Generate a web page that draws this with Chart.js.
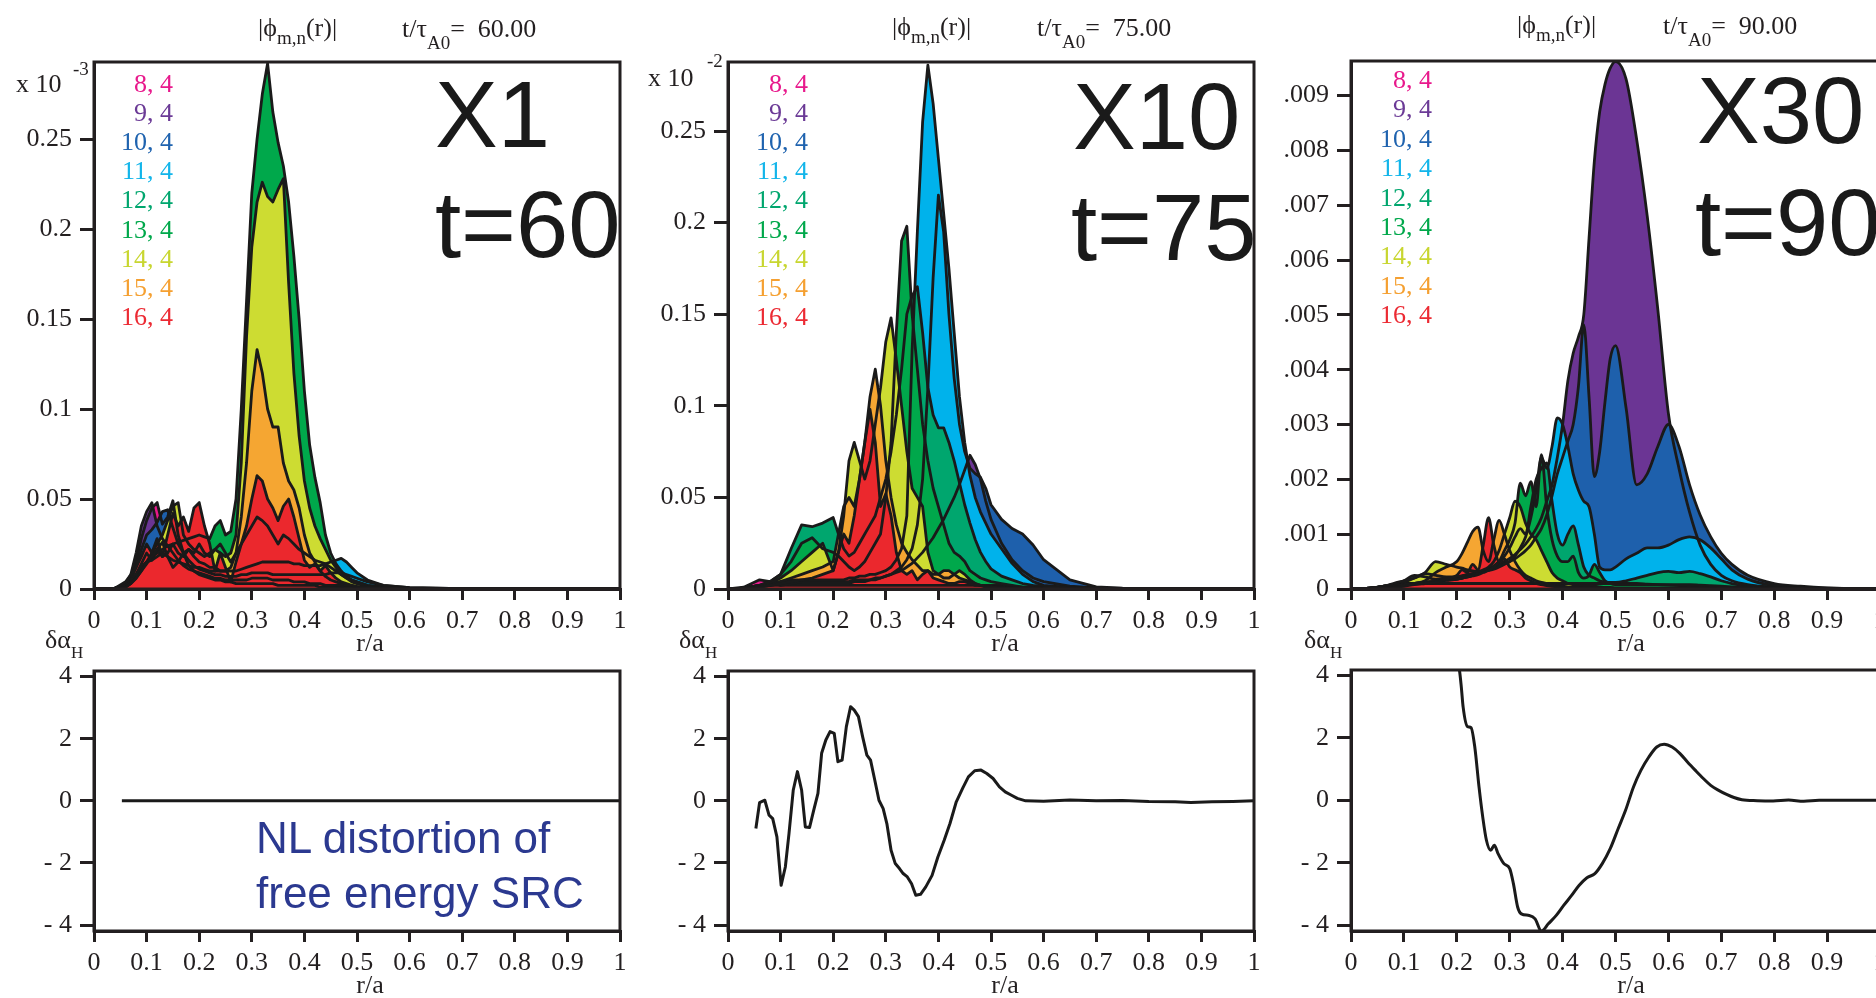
<!DOCTYPE html>
<html><head><meta charset="utf-8">
<script src="https://cdn.jsdelivr.net/npm/chart.js@4.4.0/dist/chart.umd.min.js"></script>
<style>
html,body{margin:0;padding:0;background:#fff;width:1876px;height:998px;overflow:hidden;position:relative}
canvas{position:absolute}
#txt{position:absolute;left:0;top:0;z-index:5}
</style></head><body>
<svg id="txt" width="1876" height="998" xmlns="http://www.w3.org/2000/svg"></svg>
<script>
// ---------- shared tick / label arrays ----------
const X_TICKS = [0,0.1,0.2,0.3,0.4,0.5,0.6,0.7,0.8,0.9,1];
const X_LABELS = ['0','0.1','0.2','0.3','0.4','0.5','0.6','0.7','0.8','0.9','1'];
const Y12_TICKS = [0,0.05,0.1,0.15,0.2,0.25];
const Y12_LABELS = ['0','0.05','0.1','0.15','0.2','0.25'];
const Y3_TICKS = [0,1,2,3,4,5,6,7,8,9];          // units of 1e-3
const Y3_LABELS = ['0','.001','.002','.003','.004','.005','.006','.007','.008','.009'];
const YB_TICKS = [-4,-2,0,2,4];
const YB_LABELS = ['- 4','- 2','0','2','4'];
const MODE_LABELS = ['8, 4','9, 4','10, 4','11, 4','12, 4','13, 4','14, 4','15, 4','16, 4'];
const MODE_COLORS = ['#E8198C','#6B3594','#1E60AC','#00B2EB','#00A66E','#00A84B','#CDDC32','#F5A632','#EB282D'];
const TEXT_COLORS = ['#E8198C','#6B3A96','#1F63AF','#12B5EA','#00A66E','#00A84B','#C8D630','#F5A031','#EC2A33'];

// ---------- panel 1 (t=60, x 1e-3) ----------
const R1 = [0,0.04,
 0.06,0.07,0.08,0.09,0.10,0.11,0.12,0.13,0.14,0.15,
 0.16,0.17,0.18,0.19,0.20,0.21,0.22,0.23,0.24,0.25,
 0.26,0.27,0.28,0.29,0.30,0.31,0.32,0.33,0.34,0.35,
 0.36,0.37,0.38,0.39,0.40,0.41,0.42,0.43,0.44,0.45,
 0.46,0.47,0.48,0.49,0.50,
 0.52,0.55,0.60,0.70,0.80,1.00];
const P1_M8 = [0,0.0005,
 0.002,0.006,0.015,0.028,0.038,0.045,0.048,0.036,0.040,0.049,
 0.030,0.020,0.013,0.010,0.008,0.007,0.006,0.005,0.005,0.004,
 0.004,0.003,0.003,0.003,0.003,0.003,0.003,0.003,0.003,0.002,
 0.002,0.002,0.002,0.002,0.002,0.002,0.002,0.001,0.001,0.001,
 0.001,0.001,0.001,0.001,0.001,
 0.0005,0.0003,0.0001,0,0,0];
const P1_M9 = [0,0.0005,
 0.003,0.008,0.020,0.035,0.043,0.048,0.035,0.028,0.024,0.020,
 0.016,0.013,0.011,0.010,0.009,0.008,0.007,0.006,0.006,0.005,
 0.005,0.005,0.005,0.005,0.006,0.006,0.006,0.006,0.005,0.005,
 0.005,0.005,0.004,0.004,0.004,0.003,0.003,0.003,0.002,0.002,
 0.002,0.002,0.001,0.001,0.001,
 0.0005,0.0003,0.0001,0,0,0];
const P1_M10 = [0,0.0005,
 0.002,0.005,0.012,0.022,0.030,0.033,0.037,0.043,0.044,0.034,
 0.025,0.020,0.016,0.013,0.011,0.010,0.009,0.008,0.008,0.007,
 0.007,0.007,0.008,0.008,0.009,0.009,0.009,0.009,0.008,0.008,
 0.008,0.008,0.008,0.008,0.008,0.008,0.008,0.008,0.008,0.009,
 0.009,0.009,0.008,0.007,0.006,
 0.004,0.002,0.0007,0.0002,0.0001,0];
const P1_M11 = [0,0.0005,
 0.002,0.004,0.008,0.012,0.015,0.016,0.018,0.020,0.018,0.016,
 0.015,0.014,0.013,0.012,0.012,0.011,0.010,0.010,0.010,0.010,
 0.010,0.010,0.011,0.012,0.013,0.014,0.015,0.015,0.015,0.015,
 0.015,0.015,0.014,0.014,0.013,0.013,0.013,0.013,0.014,0.015,
 0.016,0.017,0.015,0.012,0.009,
 0.005,0.002,0.0008,0.0002,0.0001,0];
const P1_M12 = [0,0.0005,
 0.002,0.004,0.008,0.014,0.020,0.016,0.022,0.018,0.020,0.025,
 0.020,0.018,0.022,0.020,0.025,0.020,0.018,0.022,0.025,0.020,
 0.015,0.020,0.025,0.030,0.035,0.040,0.038,0.035,0.030,0.025,
 0.030,0.028,0.025,0.022,0.020,0.018,0.016,0.015,0.014,0.012,
 0.010,0.008,0.006,0.005,0.004,
 0.002,0.001,0.0005,0.0002,0.0001,0];
const P1_M13 = [0,0.0005,
 0.002,0.004,0.008,0.012,0.015,0.018,0.020,0.022,0.024,0.025,
 0.026,0.027,0.028,0.029,0.030,0.029,0.028,0.035,0.038,0.030,
 0.032,0.050,0.100,0.160,0.220,0.250,0.275,0.292,0.265,0.248,
 0.235,0.215,0.185,0.150,0.110,0.080,0.062,0.048,0.030,0.020,
 0.014,0.010,0.007,0.005,0.004,
 0.002,0.001,0.0004,0.0001,0,0];
const P1_M14 = [0,0.0005,
 0.001,0.003,0.006,0.010,0.015,0.020,0.025,0.030,0.038,0.046,
 0.048,0.030,0.025,0.022,0.020,0.018,0.020,0.022,0.020,0.018,
 0.020,0.030,0.070,0.140,0.190,0.215,0.226,0.218,0.215,0.222,
 0.228,0.170,0.120,0.085,0.060,0.045,0.035,0.028,0.022,0.016,
 0.012,0.008,0.006,0.004,0.003,
 0.0015,0.0007,0.0002,0.0001,0,0];
const P1_M15 = [0,0.0005,
 0.001,0.003,0.006,0.010,0.014,0.018,0.022,0.026,0.018,0.012,
 0.015,0.020,0.022,0.018,0.015,0.014,0.012,0.012,0.010,0.010,
 0.012,0.020,0.040,0.070,0.110,0.133,0.120,0.100,0.090,0.090,
 0.070,0.060,0.055,0.045,0.030,0.020,0.015,0.010,0.007,0.005,
 0.004,0.003,0.002,0.002,0.001,
 0.0005,0.0002,0.0001,0,0,0];
const P1_M16 = [0,0.0005,
 0.004,0.008,0.012,0.018,0.025,0.020,0.028,0.018,0.030,0.042,
 0.035,0.040,0.032,0.045,0.048,0.035,0.025,0.010,0.020,0.012,
 0.004,0.015,0.025,0.035,0.050,0.063,0.060,0.050,0.045,0.038,
 0.046,0.050,0.040,0.028,0.016,0.012,0.014,0.010,0.013,0.009,
 0.006,0.004,0.003,0.002,0.0015,
 0.001,0.0005,0.0002,0,0,0];

// ---------- panel 2 (t=75, x 1e-2) ----------
const R2 = [0,0.03,0.06,0.08,0.10,0.12,0.14,0.16,0.18,0.20,
 0.21,0.22,0.23,0.24,0.25,0.26,0.27,0.28,0.29,0.30,
 0.31,0.32,0.33,0.34,0.35,0.36,0.37,0.38,0.39,0.40,
 0.41,0.42,0.43,0.44,0.45,0.46,0.47,0.48,0.49,0.50,
 0.52,0.54,0.56,0.58,0.60,0.65,0.70,0.75,0.80,0.90,1.00];
const P2_M8 = [0,0.001,0.005,0.004,0.002,0.002,0.002,0.002,0.002,0.002,
 0.002,0.002,0.002,0.002,0.002,0.002,0.002,0.002,0.002,0.002,
 0.002,0.002,0.002,0.002,0.002,0.002,0.002,0.002,0.002,0.002,
 0.002,0.002,0.002,0.002,0.002,0.002,0.002,0.002,0.002,0.002,
 0.002,0.0015,0.001,0.001,0.001,0.0005,0.0003,0.0002,0.0001,0,0];
const P2_M9 = [0,0.0005,0.002,0.002,0.002,0.003,0.003,0.003,0.003,0.003,
 0.003,0.003,0.003,0.004,0.004,0.004,0.005,0.005,0.006,0.007,
 0.008,0.009,0.010,0.012,0.014,0.017,0.020,0.024,0.028,0.033,
 0.038,0.044,0.050,0.057,0.065,0.073,0.068,0.060,0.048,0.038,
 0.025,0.016,0.010,0.006,0.004,0.0015,0.0006,0.0003,0.0002,0.0001,0];
const P2_M10 = [0,0.0005,0.002,0.002,0.003,0.003,0.004,0.004,0.004,0.004,
 0.004,0.004,0.004,0.005,0.005,0.005,0.005,0.006,0.006,0.007,
 0.008,0.010,0.012,0.016,0.022,0.035,0.060,0.110,0.170,0.215,
 0.195,0.150,0.115,0.090,0.075,0.066,0.063,0.061,0.055,0.046,
 0.038,0.033,0.030,0.024,0.016,0.005,0.0012,0.0004,0.0002,0.0001,0];
const P2_M11 = [0,0.0005,0.002,0.003,0.004,0.005,0.005,0.005,0.005,0.005,
 0.005,0.005,0.006,0.006,0.007,0.007,0.008,0.008,0.009,0.010,
 0.012,0.016,0.022,0.040,0.130,0.195,0.255,0.286,0.265,0.235,
 0.205,0.175,0.140,0.105,0.080,0.062,0.050,0.042,0.036,0.030,
 0.022,0.014,0.008,0.004,0.002,0.0008,0.0003,0.0001,0,0,0];
const P2_M12 = [0,0.0005,0.002,0.004,0.008,0.022,0.035,0.034,0.036,0.039,
 0.030,0.022,0.018,0.020,0.025,0.030,0.035,0.040,0.050,0.060,
 0.075,0.095,0.120,0.150,0.160,0.165,0.140,0.110,0.095,0.088,
 0.088,0.080,0.070,0.058,0.046,0.036,0.027,0.020,0.015,0.011,
 0.007,0.005,0.003,0.002,0.0015,0.0008,0.0004,0.0002,0.0001,0,0];
const P2_M13 = [0,0.0005,0.002,0.004,0.008,0.015,0.025,0.028,0.022,0.020,
 0.018,0.015,0.012,0.010,0.012,0.015,0.020,0.025,0.030,0.050,
 0.080,0.140,0.190,0.198,0.150,0.120,0.090,0.070,0.055,0.045,
 0.035,0.025,0.020,0.018,0.015,0.010,0.008,0.006,0.005,0.004,
 0.003,0.002,0.001,0.0008,0.0005,0.0002,0.0001,0,0,0,0];
const P2_M14 = [0,0.0005,0.001,0.003,0.006,0.010,0.015,0.020,0.025,0.010,
 0.020,0.040,0.070,0.080,0.070,0.060,0.070,0.090,0.110,0.135,
 0.148,0.125,0.100,0.075,0.055,0.050,0.045,0.020,0.010,0.008,
 0.006,0.006,0.008,0.010,0.008,0.005,0.003,0.002,0.002,0.001,
 0.001,0.0005,0.0003,0.0002,0.0001,0,0,0,0,0,0];
const P2_M15 = [0,0.0005,0.001,0.002,0.004,0.006,0.008,0.010,0.012,0.015,
 0.030,0.045,0.050,0.045,0.060,0.080,0.105,0.120,0.100,0.070,
 0.050,0.035,0.025,0.020,0.016,0.013,0.010,0.010,0.008,0.008,
 0.010,0.010,0.008,0.006,0.005,0.004,0.003,0.002,0.002,0.001,
 0.001,0.0005,0.0003,0.0002,0.0001,0,0,0,0,0,0];
const P2_M16 = [0,0.0005,0.001,0.002,0.003,0.004,0.005,0.006,0.008,0.010,
 0.020,0.030,0.025,0.040,0.060,0.080,0.098,0.080,0.045,0.052,
 0.040,0.020,0.010,0.008,0.010,0.005,0.008,0.010,0.006,0.005,
 0.004,0.003,0.003,0.004,0.004,0.003,0.002,0.002,0.001,0.001,
 0.0008,0.0005,0.0003,0.0002,0.0001,0,0,0,0,0,0];

// ---------- panel 3 (t=90, units of 1e-3) ----------
const R3 = [0,0.04,0.06,0.08,0.10,0.12,0.14,0.16,0.18,
 0.20,0.21,0.22,0.23,0.24,0.25,0.26,0.27,0.28,0.29,
 0.30,0.31,0.32,0.33,0.34,0.35,0.36,0.37,0.38,0.39,
 0.40,0.41,0.42,0.43,0.44,0.45,0.46,0.47,0.48,0.49,
 0.50,
 0.52,0.54,0.56,0.58,0.60,0.62,0.64,0.66,0.68,0.70,0.72,0.75,0.80,0.85,0.90,1.00];
const P3_M8 = [0,0.02,0.05,0.08,0.10,0.10,0.10,0.10,0.10,
 0.10,0.10,0.10,0.10,0.10,0.10,0.10,0.10,0.10,0.10,
 0.10,0.10,0.10,0.10,0.10,0.10,0.10,0.10,0.10,0.10,
 0.10,0.10,0.10,0.10,0.10,0.10,0.10,0.10,0.10,0.10,
 0.10,
 0.10,0.10,0.09,0.08,0.07,0.06,0.05,0.04,0.03,0.025,0.02,0.015,0.01,0.005,0.003,0];
const P3_M9 = [0,0.02,0.04,0.06,0.08,0.10,0.12,0.14,0.16,
 0.18,0.20,0.22,0.25,0.28,0.32,0.36,0.40,0.45,0.50,
 0.56,0.63,0.72,0.82,0.95,1.10,1.30,1.60,1.90,2.40,
 3.00,3.80,4.30,4.60,5.00,6.40,7.80,8.70,9.20,9.50,
 9.62,
 9.30,8.20,6.80,5.10,3.20,2.20,1.40,0.80,0.45,0.25,0.15,0.08,0.03,0.015,0.01,0];
const P3_M10 = [0,0.02,0.05,0.08,0.15,0.25,0.22,0.18,0.20,
 0.22,0.24,0.26,0.28,0.30,0.32,0.35,0.38,0.42,0.46,
 0.50,0.55,0.62,0.70,0.80,0.95,1.10,1.35,1.70,2.10,
 2.40,2.70,3.00,3.70,4.82,3.50,2.05,2.50,3.40,4.20,
 4.44,
 3.30,1.90,2.10,2.60,3.00,2.60,1.90,1.35,0.95,0.65,0.45,0.25,0.10,0.05,0.02,0];
const P3_M11 = [0,0.02,0.05,0.08,0.12,0.20,0.28,0.25,0.22,
 0.22,0.24,0.26,0.28,0.30,0.32,0.34,0.36,0.40,0.45,
 0.50,0.60,0.75,0.95,1.30,1.80,2.40,2.20,2.60,3.12,
 3.00,2.60,2.10,1.80,1.60,1.50,1.00,0.40,0.35,0.35,
 0.40,
 0.55,0.65,0.75,0.75,0.80,0.90,0.95,0.90,0.75,0.55,0.35,0.18,0.06,0.03,0.015,0];
const P3_M12 = [0,0.02,0.04,0.06,0.08,0.10,0.12,0.14,0.16,
 0.18,0.20,0.22,0.25,0.28,0.32,0.36,0.42,0.50,0.60,
 0.75,0.95,1.10,1.00,1.50,2.00,2.20,2.30,1.60,1.00,
 0.80,1.00,1.15,0.80,0.40,0.25,0.20,0.15,0.12,0.12,
 0.12,
 0.15,0.20,0.25,0.30,0.32,0.30,0.32,0.28,0.22,0.15,0.10,0.06,0.03,0.015,0.008,0];
const P3_M13 = [0,0.02,0.04,0.06,0.08,0.10,0.12,0.14,0.16,
 0.18,0.20,0.22,0.24,0.26,0.30,0.34,0.40,0.50,0.70,
 0.90,1.20,1.93,1.70,1.96,1.50,2.45,1.50,0.90,0.60,
 0.50,0.50,0.60,0.30,0.20,0.25,0.45,0.30,0.15,0.10,
 0.08,
 0.08,0.08,0.08,0.08,0.08,0.08,0.08,0.07,0.06,0.05,0.04,0.03,0.02,0.01,0.005,0];
const P3_M14 = [0,0.02,0.04,0.10,0.15,0.20,0.30,0.50,0.45,
 0.40,0.38,0.35,0.33,0.32,0.35,0.40,0.50,0.70,1.00,
 1.30,1.60,1.50,1.20,1.00,0.90,0.70,0.50,0.30,0.20,
 0.15,0.10,0.08,0.06,0.05,0.05,0.05,0.04,0.03,0.03,
 0.02,
 0.02,0.02,0.02,0.02,0.02,0.02,0.01,0.01,0.01,0.01,0.01,0.005,0.003,0.002,0.001,0];
const P3_M15 = [0,0.01,0.02,0.05,0.08,0.10,0.15,0.30,0.40,
 0.50,0.65,0.85,1.05,1.13,0.70,0.50,0.90,1.25,1.00,
 0.70,0.50,0.35,0.25,0.20,0.15,0.12,0.10,0.08,0.06,
 0.05,0.04,0.03,0.03,0.02,0.02,0.02,0.02,0.01,0.01,
 0.01,
 0.01,0.01,0.01,0.01,0.01,0.005,0.005,0.005,0.005,0.003,0.002,0.001,0.001,0,0,0];
const P3_M16 = [0,0.01,0.02,0.03,0.05,0.08,0.10,0.12,0.18,
 0.25,0.35,0.30,0.45,0.35,0.80,1.30,0.80,0.50,0.55,
 0.40,0.35,0.30,0.20,0.15,0.10,0.08,0.06,0.05,0.04,
 0.03,0.03,0.02,0.02,0.02,0.02,0.01,0.01,0.01,0.01,
 0.01,
 0.01,0.01,0.01,0.005,0.005,0.005,0.003,0.003,0.002,0.002,0.001,0.001,0,0,0,0];

// ---------- bottom panels: delta alpha_H ----------
const B1_R = [0.053,0.1,0.2,0.3,0.4,0.5,0.6,0.7,0.8,0.9,1.0];
const B1_V = [0,0,0,0,0,0,0,0,0,0,0];
const B2_R = [0.053,0.06,0.07,0.078,0.085,0.093,0.101,0.109,0.116,0.124,
 0.132,0.14,0.147,0.155,0.163,0.171,0.178,0.186,0.194,0.202,
 0.209,0.217,0.225,0.233,0.24,0.248,0.256,0.264,0.271,0.279,
 0.287,0.295,0.302,0.31,0.318,0.326,0.333,0.341,0.349,0.357,
 0.366,0.376,0.388,0.399,0.411,0.422,0.434,0.446,0.457,0.469,
 0.481,0.492,0.504,0.516,0.527,0.539,0.55,0.566,0.6,0.65,
 0.7,0.75,0.8,0.85,0.88,0.92,0.96,1.0];
const B2_V = [-0.89,-0.06,0.02,-0.46,-0.57,-1.16,-2.72,-2.13,-1.05,0.34,
 0.94,0.34,-0.84,-0.86,-0.3,0.24,1.53,1.96,2.23,2.17,
 1.26,1.31,2.39,3.03,2.92,2.71,2.06,1.47,1.31,0.67,
 0.02,-0.25,-0.73,-1.59,-2.02,-2.18,-2.34,-2.45,-2.67,-3.04,
 -3.01,-2.77,-2.4,-1.81,-1.27,-0.73,-0.03,0.4,0.77,0.97,
 0.99,0.88,0.72,0.45,0.29,0.18,0.08,0,-0.01,0.03,
 0,0.01,-0.02,-0.03,-0.05,-0.03,-0.02,0];
const B3_R = [0.19,0.205,0.2085,0.212,0.22,0.227,0.234,0.242,0.249,0.256,
 0.264,0.271,0.278,0.289,0.3,0.307,0.315,0.322,0.337,0.348,
 0.36,0.373,0.388,0.402,0.417,0.431,0.446,0.461,0.475,0.49,
 0.505,0.519,0.534,0.548,0.563,0.578,0.592,0.607,0.622,0.636,
 0.651,0.666,0.68,0.695,0.71,0.724,0.739,0.768,0.798,0.827,
 0.856,0.885,0.93,1.0];
const B3_V = [5.0,4.17,3.64,2.99,2.37,2.33,1.71,0.43,-0.53,-1.28,
 -1.6,-1.44,-1.71,-2.03,-2.19,-2.67,-3.42,-3.64,-3.69,-3.8,
 -4.2,-3.96,-3.69,-3.37,-3.05,-2.73,-2.48,-2.35,-2.03,-1.55,
 -0.91,-0.32,0.43,0.96,1.39,1.71,1.8,1.71,1.5,1.23,
 0.96,0.7,0.48,0.32,0.19,0.09,0.02,-0.01,-0.02,0.01,
 -0.03,0,0,0];

// ---------- drawing ----------
const INK = '#231f20';
Chart.defaults.font.family = "'Liberation Serif','Times New Roman',serif";
Chart.defaults.font.size = 26;
Chart.defaults.color = INK;

const framePlugin = {
  id: 'frame',
  afterDatasetsDraw(chart) {
    const {ctx, chartArea: a} = chart;
    ctx.save();
    ctx.strokeStyle = INK; ctx.lineWidth = 3;
    ctx.strokeRect(a.left, a.top, a.right - a.left, a.bottom - a.top);
    ctx.restore();
  }
};

function makeChart(rect, datasets, yMin, yMax, yTicks, yLabels) {
  const yW = 110, xH = 60, padT = 24, padR = 30;
  const w = yW + (rect.r - rect.l) + padR;
  const h = padT + (rect.b - rect.t) + xH;
  const c = document.createElement('canvas');
  c.width = w; c.height = h;
  c.style.width = w + 'px'; c.style.height = h + 'px';
  c.style.left = (rect.l - yW) + 'px';
  c.style.top = (rect.t - padT) + 'px';
  document.body.appendChild(c);
  const gridOpt = (tl) => ({display: true, drawOnChartArea: false, drawTicks: true,
    tickLength: tl, tickWidth: 3, tickColor: INK, color: INK, lineWidth: 3});
  const chart = new Chart(c.getContext('2d'), {
    type: 'line',
    data: {datasets},
    options: {
      responsive: false, animation: false, events: [], devicePixelRatio: 1,
      layout: {padding: {top: padT, right: padR, left: 0, bottom: 0}},
      plugins: {legend: {display: false}, tooltip: {enabled: false},
                filler: {drawTime: 'beforeDatasetsDraw'}},
      elements: {point: {radius: 0}},
      scales: {
        x: {type: 'linear', min: 0, max: 1,
            afterFit: s => { s.height = xH; },
            afterBuildTicks: s => { s.ticks = X_TICKS.map(v => ({value: v})); },
            ticks: {callback: (v, i) => X_LABELS[i], autoSkip: false, maxRotation: 0, minRotation: 0, padding: 6},
            grid: gridOpt(11),
            border: {display: true, width: 3, color: INK}},
        y: {type: 'linear', min: yMin, max: yMax,
            afterFit: s => { s.width = yW; },
            afterBuildTicks: s => { s.ticks = yTicks.map(v => ({value: v})); },
            ticks: {callback: (v, i) => yLabels[i], padding: 8, autoSkip: false},
            grid: gridOpt(14),
            border: {display: true, width: 3, color: INK}}
      }
    },
    plugins: [framePlugin]
  });
  const ca = chart.chartArea;
  c.style.left = (rect.l - ca.left) + 'px';
  c.style.top = (rect.t - ca.top) + 'px';
  return chart;
}

function areaSets(R, series, smooth) {
  return series.map((vals, k) => ({
    data: R.map((r, i) => ({x: r, y: vals[i]})),
    backgroundColor: MODE_COLORS[k],
    borderColor: '#1a1a1a', borderWidth: 2.8, borderJoinStyle: 'round',
    fill: 'origin', order: 8 - k, pointRadius: 0,
    tension: 0, cubicInterpolationMode: smooth ? 'monotone' : 'default'
  }));
}
function lineSet(R, V, smooth) {
  return [{data: R.map((r, i) => ({x: r, y: V[i]})), borderColor: '#1a1a1a', borderWidth: 3,
           fill: false, pointRadius: 0, borderJoinStyle: 'round',
           cubicInterpolationMode: smooth ? 'monotone' : 'default'}];
}

makeChart({l: 94, r: 620, t: 62, b: 589},
  areaSets(R1, [P1_M8,P1_M9,P1_M10,P1_M11,P1_M12,P1_M13,P1_M14,P1_M15,P1_M16], false),
  0, 0.2928, Y12_TICKS, Y12_LABELS);
makeChart({l: 728, r: 1254, t: 62, b: 589},
  areaSets(R2, [P2_M8,P2_M9,P2_M10,P2_M11,P2_M12,P2_M13,P2_M14,P2_M15,P2_M16], false),
  0, 0.2877, Y12_TICKS, Y12_LABELS);
makeChart({l: 1351, r: 1880, t: 61, b: 589},
  areaSets(R3, [P3_M8,P3_M9,P3_M10,P3_M11,P3_M12,P3_M13,P3_M14,P3_M15,P3_M16], true),
  0, 9.63, Y3_TICKS, Y3_LABELS);
makeChart({l: 94, r: 620, t: 671, b: 931}, lineSet(B1_R, B1_V, false), -4.19, 4.18, YB_TICKS, YB_LABELS);
makeChart({l: 728, r: 1254, t: 671, b: 931}, lineSet(B2_R, B2_V, false), -4.19, 4.18, YB_TICKS, YB_LABELS);
makeChart({l: 1351, r: 1880, t: 670, b: 931}, lineSet(B3_R, B3_V, true), -4.19, 4.18, YB_TICKS, YB_LABELS);

// ---------- text ----------
const SVGNS = 'http://www.w3.org/2000/svg';
const svg = document.getElementById('txt');
function txt(x, y, parts, o = {}) {
  const t = document.createElementNS(SVGNS, 'text');
  t.setAttribute('x', x); t.setAttribute('y', y);
  t.setAttribute('font-family', o.family || "'Liberation Serif','DejaVu Serif',serif");
  t.setAttribute('font-size', o.size || 26);
  t.setAttribute('fill', o.fill || INK);
  if (o.anchor) t.setAttribute('text-anchor', o.anchor);
  t.style.whiteSpace = 'pre';
  (Array.isArray(parts) ? parts : [[parts]]).forEach(p => {
    const s = document.createElementNS(SVGNS, 'tspan');
    s.textContent = p[0];
    if (p[1]) s.setAttribute('font-size', p[1]);
    if (p[2]) s.setAttribute('dy', p[2]);
    s.style.whiteSpace = 'pre';
    t.appendChild(s);
  });
  svg.appendChild(t);
}
const PANELS = [
  {phiX: 258, tX: 402, tY: 37, time: '60.00', legX: 173, legY: 92, legDy: 29.1,
   big1: 'X1', big1X: 435, big1Y: 147, big2: 't=60', big2X: 435, big2Y: 257, rCx: 370, dX: 45},
  {phiX: 892, tX: 1037, tY: 36, time: '75.00', legX: 808, legY: 92, legDy: 29.1,
   big1: 'X10', big1X: 1073, big1Y: 149, big2: 't=75', big2X: 1071, big2Y: 260, rCx: 1005, dX: 679},
  {phiX: 1517, tX: 1663, tY: 34, time: '90.00', legX: 1432, legY: 88, legDy: 29.4,
   big1: 'X30', big1X: 1697, big1Y: 143, big2: 't=90', big2X: 1695, big2Y: 255, rCx: 1631, dX: 1304}
];
PANELS.forEach(p => {
  txt(p.phiX, p.tY - 1, [['|\u03D5'], ['m,n', 19, 8], ['(r)|', null, -8]]);
  txt(p.tX, p.tY, [['t/\u03C4'], ['A0', 19, 12], ['=  ' + p.time, null, -12]]);
  MODE_LABELS.forEach((lab, i) =>
    txt(p.legX, p.legY + i * p.legDy, lab, {anchor: 'end', fill: TEXT_COLORS[i]}));
  txt(p.big1X, p.big1Y, p.big1, {family: "'Liberation Sans',Arial,sans-serif", size: 94, fill: '#1a1a1a'});
  txt(p.big2X, p.big2Y, p.big2, {family: "'Liberation Sans',Arial,sans-serif", size: 94, fill: '#1a1a1a'});
  txt(p.rCx, 651, 'r/a', {anchor: 'middle'});
  txt(p.rCx, 993, 'r/a', {anchor: 'middle'});
  txt(p.dX, 648, [['\u03B4\u03B1'], ['H', 17, 10]]);
});
txt(16, 92, 'x 10');
txt(73, 75, '-3', {size: 19});
txt(648, 86, 'x 10');
txt(707, 67, '-2', {size: 19});
txt(256, 853, 'NL distortion of', {family: "'Liberation Sans',Arial,sans-serif", size: 44, fill: '#2B3990'});
txt(256, 908, 'free energy SRC', {family: "'Liberation Sans',Arial,sans-serif", size: 44, fill: '#2B3990'});
</script>
</body></html>
